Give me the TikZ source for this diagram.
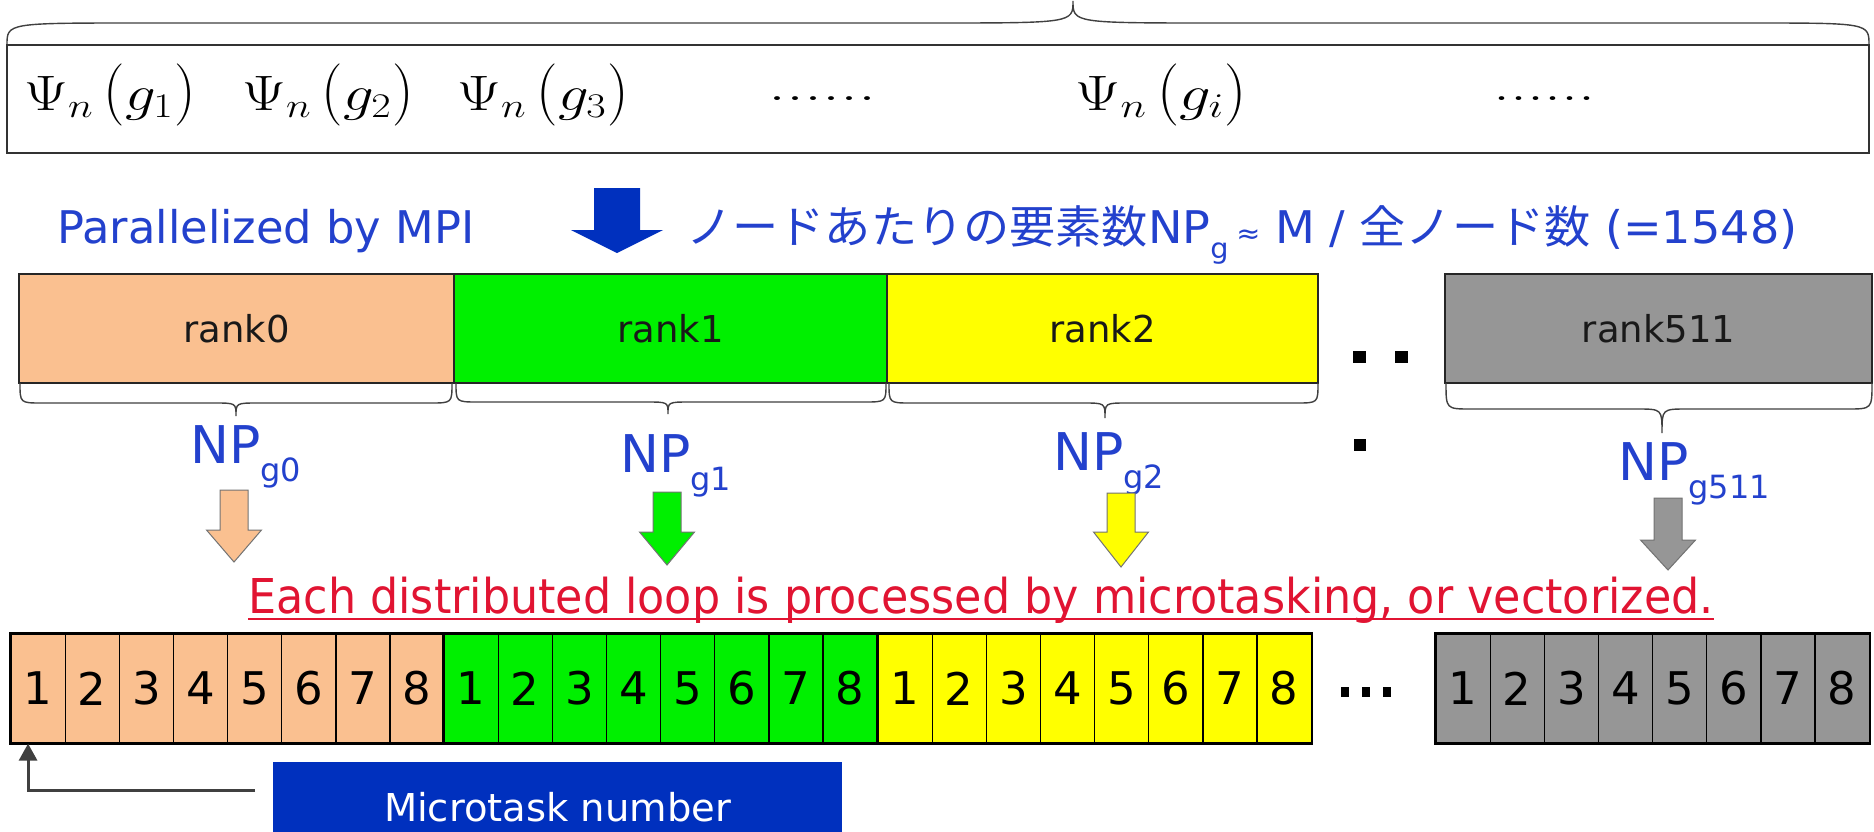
\documentclass[tikz,border=0pt]{standalone}
\usepackage{fontspec}
\usepackage{graphicx}
\setsansfont{DejaVu Sans}
\newfontfamily\dvs{DejaVu Sans}
\newfontfamily\jpfont{Noto Sans CJK JP}
\usetikzlibrary{arrows.meta}
\definecolor{peach}{RGB}{250,192,144}
\definecolor{rgreen}{RGB}{0,240,0}
\definecolor{ryellow}{RGB}{255,255,0}
\definecolor{rgray}{RGB}{150,150,150}
\definecolor{tblue}{RGB}{35,65,205}
\definecolor{dblue}{RGB}{0,48,190}
\definecolor{rred}{RGB}{225,20,50}
\newcommand\dbrace[7]{\draw[bracestyle] (#1,#4) .. controls (#1,#5) .. ({#1+#7},#5) -- ({#3-#7},#5) .. controls (#3,#5) .. (#3,#6) .. controls (#3,#5) .. ({#3+#7},#5) -- ({#2-#7},#5) .. controls (#2,#5) .. (#2,#4);}
\newcommand\npl[1]{{\fontsize{26}{30}\selectfont NP}\raisebox{-9pt}{\fontsize{16}{18}\selectfont g#1}}
\newcommand\lpar{\scalebox{1}[1.25]{$\bigl($}}
\newcommand\rpar{\scalebox{1}[1.25]{$\bigr)$}}
\newcommand\psil[1]{\resizebox{85.5pt}{\height}{$\Psi_{n}$\,\lpar$g_{#1}$\rpar}}
\tikzset{
  bracestyle/.style={draw=black!75, line width=0.7pt},
  rankbox/.style={draw=black!85, line width=1pt, minimum height=54.5pt, inner sep=0pt, font=\dvs\fontsize{18.5}{22}\selectfont, text=black!90},
  cell/.style={draw=black, line width=0.6pt, minimum width=27.075pt, minimum height=54.5pt, inner sep=0pt, font=\dvs\fontsize{22.5}{26}\selectfont},
  nplabel/.style={anchor=base west, inner sep=0pt, text=tblue, font=\dvs},
  psitext/.style={anchor=base, inner sep=0pt, font=\fontsize{23.5}{28}\selectfont},
  blockarrow/.style={draw=black!55, line width=0.5pt}
}
\begin{document}
\begin{tikzpicture}[x=0.5pt,y=-0.5pt]
\useasboundingbox (0,0) rectangle (1874,831);
\fill[white] (0,0) rectangle (1874,831);

% top brace and box
\draw[bracestyle] (7,45) .. controls (7,23) .. (138,23) -- (930,23) .. controls (1073,23) .. (1073,1) .. controls (1073,23) .. (1217,23) -- (1749,23) .. controls (1869,23) .. (1869,45);
\draw[draw=black!80, line width=1pt] (7,45) rectangle (1869,153);
\node[psitext] (p1) at (110,110) {\psil{1}};
\node[psitext] (p2) at (328,110) {\psil{2}};
\node[psitext] (p3) at (543,110) {\psil{3}};
\node[psitext] (pd1) at (822,100) {\resizebox{54pt}{\height}{......}};
\node[psitext] (pi) at (1161,110) {\psil{i}};
\node[psitext] (pd2) at (1544,100) {\resizebox{51pt}{\height}{......}};

% MPI line
\node[anchor=base west, inner sep=0pt, text=tblue] (mpi) at (57,243) {\resizebox{208.5pt}{\height}{\dvs\fontsize{22.5}{27}\selectfont Parallelized by MPI}};
\fill[dblue] (594,188) -- (640,188) -- (640,230) -- (663,230) -- (617,253) -- (571,230) -- (594,230) -- cycle;
\node[anchor=base west, inner sep=0pt, text=tblue] (jp) at (686,243) {\resizebox{555.5pt}{\height}{\dvs\fontsize{22.5}{27}\selectfont{\jpfont ノードあたりの要素数}NP\raisebox{-7.5pt}{\fontsize{14}{16}\selectfont g}\,{\fontsize{14}{16}\selectfont ≈} M / {\jpfont 全ノード数} (=1548)}};

% rank boxes
\node[rankbox, fill=peach, minimum width=217.5pt] (r0) at (236.5,328.5) {rank0};
\node[rankbox, fill=rgreen, minimum width=216.5pt] (r1) at (670.5,328.5) {rank1};
\node[rankbox, fill=ryellow, minimum width=215.5pt] (r2) at (1102.5,328.5) {rank2};
\node[rankbox, fill=rgray, minimum width=213.5pt] (r511) at (1658.5,328.5) {rank511};
\fill (1353,351) rectangle (1366,363);
\fill (1395,351) rectangle (1408,363);
\fill (1354,439) rectangle (1366,451);

% braces under ranks
\dbrace{20}{452}{236}{383}{403}{416}{22}
\dbrace{456}{886}{668}{383}{402}{414}{22}
\dbrace{889}{1318}{1105}{383}{403}{418}{22}
\dbrace{1446}{1872}{1662}{383}{409}{433}{25}

% NP labels
\node[nplabel] (np0) at (190,463) {\npl{0}};
\node[nplabel] (np1) at (620,472) {\npl{1}};
\node[nplabel] (np2) at (1053,470) {\npl{2}};
\node[nplabel] (np511) at (1618,480) {\npl{511}};

% block arrows
\foreach \cx/\tp/\hs/\tip/\col in {234/490/530/562/peach, 667/492/532/565/rgreen, 1121/493/532/567/ryellow, 1668/498/540/570/rgray}{
  \draw[blockarrow, fill=\col] ({\cx-14},\tp) -- ({\cx+14},\tp) -- ({\cx+14},\hs) -- ({\cx+27.5},\hs) -- (\cx,\tip) -- ({\cx-27.5},\hs) -- ({\cx-14},\hs) -- cycle;
}

% red text
\node[anchor=base west, inner sep=0pt, text=rred] (red) at (248,613) {\resizebox{732.5pt}{\height}{\dvs\fontsize{24}{28}\selectfont Each distributed loop is processed by microtasking, or vectorized.}};
\draw[rred, line width=1pt] ([yshift=-3pt]red.base west) -- ([yshift=-3pt]red.base east);

% microtask cells
\foreach \gx/\col [count=\g] in {11/peach, 444/rgreen, 878/ryellow, 1436/rgray}{
  \foreach \i in {1,...,8}{
    \node[cell, fill=\col] (c\g\i) at ({\gx+(\i-0.5)*54.15},688.5) {\i};
  }
  \draw[line width=1pt] (c\g1.north west) rectangle (c\g8.south east);
}
\foreach \dx in {1345,1366,1387}{
  \fill ({\dx-4},687) rectangle ({\dx+4},697);
}

% microtask number
\node[fill=dblue, minimum width=284.5pt, minimum height=45pt, inner sep=0pt, text=white] (mt) at (557.5,807) {\resizebox{173.5pt}{\height}{\dvs\fontsize{19.2}{23}\selectfont Microtask number}};
\coordinate (mtstart) at (255,790);
\draw[line width=1.5pt, black!75, -{Triangle[width=9pt,length=8.5pt]}] (mtstart) -| ([xshift=-5pt]c11.south);
\end{tikzpicture}
\end{document}
